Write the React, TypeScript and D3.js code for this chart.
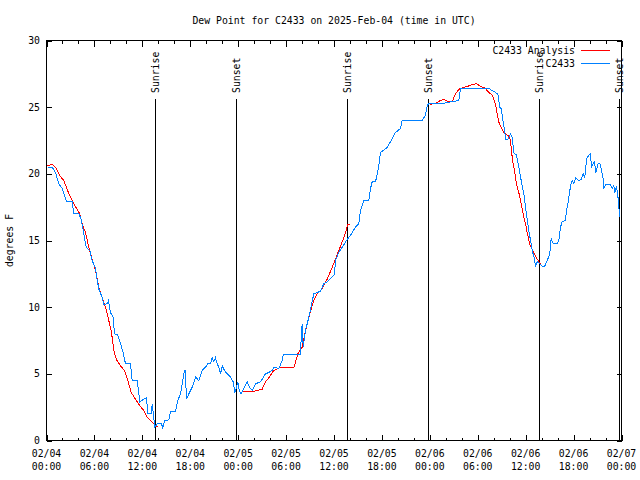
import React from "react";
import * as d3 from "d3";

const TITLE = "Dew Point for C2433 on 2025-Feb-04 (time in UTC)";
const Y_LABEL = "degrees F";
const SERIES_NAMES = ["C2433 Analysis", "C2433"];
const START = Date.UTC(2025, 1, 4, 0, 0);
const SPAN_HOURS = 72;

// Observations (hours since 2025-02-04 00:00 UTC, degrees F)
const obsHours = [
  0.16, 0.75, 1.13, 1.54, 1.97, 2.5, 3.22, 3.42, 4.04, 4.35, 4.67, 4.97, 5.42, 5.72, 6.14, 6.35, 6.6, 6.97,
  7.18, 7.6, 7.76, 8.01, 8.35, 8.51, 8.93, 9.27, 9.6, 9.89, 10.52, 10.73, 11.36, 11.68, 12.18, 12.52, 12.68,
  13.11, 13.24, 13.56, 13.86, 14.4, 14.56, 14.78, 15.31, 15.53, 16.15, 16.44, 16.78, 16.99, 17.19, 17.37,
  17.53, 17.82, 18.24, 18.66, 19.07, 19.5, 19.91, 20.2, 20.54, 20.75, 20.95, 21.16, 21.37, 21.58, 21.79,
  22.0, 22.29, 22.63, 23.04, 23.38, 23.58, 23.79, 23.95, 24.13, 24.38, 24.71, 25.13, 25.42, 25.76, 26.17,
  26.8, 27.01, 27.42, 27.84, 28.26, 28.46, 29.09, 29.51, 29.64, 31.81, 31.89, 32.02, 32.14, 32.43, 32.85,
  33.15, 33.47, 33.9, 34.31, 34.72, 35.15, 36.06, 36.19, 36.6, 37.15, 37.57, 38.07, 38.69, 39.11, 39.32,
  39.73, 40.36, 40.57, 40.78, 41.2, 41.41, 41.61, 41.82, 42.7, 43.33, 43.7, 44.33, 44.54, 47.04, 47.46,
  47.67, 47.87, 48.92, 49.75, 50.59, 51.63, 51.84, 55.38, 55.81, 56.22, 56.51, 56.76, 56.94, 57.1, 57.35,
  57.51, 57.76, 58.1, 58.31, 58.51, 58.85, 59.14, 59.44, 59.77, 59.98, 60.19, 60.39, 60.61, 60.82, 61.11,
  61.23, 61.44, 61.77, 62.07, 62.36, 62.7, 63.02, 63.2, 63.32, 63.52, 63.95, 64.15, 64.36, 64.57, 64.99,
  65.11, 65.33, 65.53, 65.7, 65.83, 66.03, 66.24, 66.65, 66.95, 67.21, 67.41, 67.62, 67.9, 68.12, 68.24,
  68.46, 68.62, 68.78, 68.96, 69.08, 69.28, 69.5, 69.71, 69.79, 70.0, 70.62, 70.84, 71.04, 71.16, 71.37,
  71.54, 71.63, 71.71, 71.79,
];
const obsValues = [
  20.45, 20.45, 20.1, 19.25, 18.9, 17.95, 17.9, 17.0, 17.0, 16.6, 15.5, 14.5, 14.25, 13.5, 12.9, 12.0, 11.25,
  10.75, 10.2, 10.25, 10.5, 9.6, 9.25, 8.0, 7.9, 7.25, 6.6, 5.75, 5.75, 4.5, 4.5, 2.9, 3.1, 3.2, 2.0, 2.0,
  2.7, 1.0, 1.25, 1.25, 0.95, 1.5, 1.55, 2.2, 2.2, 3.0, 3.5, 4.25, 5.0, 5.3, 3.1, 3.5, 4.0, 4.75, 4.5, 5.25,
  5.5, 5.75, 5.75, 6.2, 5.9, 6.2, 5.75, 5.5, 5.0, 5.6, 5.25, 5.0, 4.75, 4.4, 3.6, 4.0, 4.4, 3.75, 3.5, 3.9,
  4.4, 4.0, 3.75, 4.25, 4.4, 4.6, 5.0, 5.1, 5.25, 5.5, 5.4, 6.0, 6.45, 6.45, 7.75, 8.75, 7.0, 8.25, 9.25,
  10.1, 11.0, 11.1, 11.2, 11.75, 11.9, 12.45, 13.5, 14.1, 14.6, 15.0, 15.4, 16.0, 16.25, 17.25, 18.0, 18.0,
  18.9, 19.4, 19.4, 20.0, 20.6, 21.6, 22.0, 22.7, 23.1, 23.4, 24.0, 24.0, 24.4, 25.1, 25.3, 25.25, 25.3,
  25.4, 25.5, 26.4, 26.4, 26.25, 26.1, 26.0, 25.0, 24.9, 24.25, 23.25, 22.6, 22.6, 23.0, 22.75, 21.6, 21.4,
  20.5, 19.5, 18.5, 17.5, 16.6, 15.75, 15.0, 14.25, 13.6, 13.05, 13.4, 13.25, 13.05, 13.05, 13.5, 14.0,
  15.2, 14.9, 14.75, 14.75, 15.0, 16.0, 16.4, 16.5, 17.25, 17.9, 18.75, 19.3, 19.5, 19.25, 19.7, 19.5, 19.6,
  20.0, 19.75, 21.1, 21.4, 21.5, 20.5, 20.75, 20.9, 20.1, 20.5, 20.8, 20.8, 20.25, 19.6, 18.9, 19.2, 19.2,
  18.9, 19.1, 18.6, 19.1, 18.4, 17.75, 17.2, 16.75,
];

// Analysis (null marks a gap)
const anaHours = [
  0.13, 0.71, 1.13, 1.75, 2.17, 2.67, 3.22, 3.76, 4.17, 4.47, 4.88, 5.3, 5.72, 6.14, 6.55, 6.97, 7.39, 7.8,
  8.14, 8.43, 8.77, 9.27, 9.77, 10.18, 10.61, 11.14, 11.68, 12.18, 12.61, 13.02, 13.65, 13.94, 19.0,
  24.64, 25.96, 27.01, 27.42, 27.84, 28.46, 29.3, 30.97, 31.47, 32.02, 32.43, 32.97, 33.47, 33.9, 34.52,
  35.15, 35.78, 36.19, 36.6, 37.03, 37.44, 37.73, 37.98, 43.0,
  48.08, 48.71, 49.34, 49.75, 50.18, 50.8, 51.21, 51.75, 52.68, 53.31, 53.84, 54.43, 54.97, 55.38, 55.81,
  56.22, 56.43, 56.63, 56.94, 57.26, 57.6, 58.01, 58.19, 58.35, 58.6, 58.85, 59.14, 59.44, 59.77, 59.98,
  60.19, 60.52, 60.82, 61.11, 61.44, 61.86,
];
const anaValues: (number | null)[] = [
  20.6, 20.7, 20.5, 19.8, 19.5, 18.7, 18.0, 17.4, 17.0, 16.25, 15.6, 14.5, 13.6, 12.75, 11.5, 10.75, 10.0,
  9.0, 8.1, 6.75, 6.05, 5.6, 5.25, 4.5, 3.6, 3.1, 2.6, 2.25, 1.75, 1.5, 1.1, 1.05, null,
  3.68, 3.68, 3.85, 4.4, 4.7, 5.25, 5.5, 5.45, 6.5, 7.0, 8.25, 9.5, 10.5, 11.0, 11.4, 12.1, 13.0, 13.6,
  14.25, 14.9, 15.6, 16.2, 16.2, null,
  25.2, 25.3, 25.5, 25.6, 25.45, 25.4, 26.0, 26.4, 26.55, 26.7, 26.75, 26.55, 26.4, 26.1, 25.9, 25.25,
  24.5, 23.9, 23.45, 23.1, 22.95, 22.75, 22.0, 21.0, 20.25, 19.25, 18.6, 17.75, 16.75, 16.25, 15.6, 14.7,
  14.3, 14.0, 13.6, 13.25,
];

const sunHours = [13.56, 23.76, 37.57, 47.75, 61.65, 71.67];
const sunLabels = ["Sunrise", "Sunset", "Sunrise", "Sunset", "Sunrise", "Sunset"];
const yTicks = [0, 5, 10, 15, 20, 25, 30];

const FONT = "'DejaVu Sans Mono', 'Liberation Mono', monospace";
const RED = "#ff0000";
const BLUE = "#0080ff";

export default function App() {
  const W = 640, H = 480;
  const left = 46.5, right = 621.5, top = 40.5, bottom = 440.5;
  const t = (h: number) => new Date(START + h * 3600 * 1000);
  const x = d3.scaleUtc().domain([t(0), t(SPAN_HOURS)]).range([left, right]);
  const y = d3.scaleLinear().domain([0, 30]).range([bottom, top]);

  const majorTicks = x.ticks(d3.utcHour.every(6)!);
  const minorTicks = x.ticks(d3.utcHour.every(2)!).filter((d) => d.getUTCHours() % 6 !== 0);
  const fmtDate = d3.utcFormat("%m/%d");
  const fmtTime = d3.utcFormat("%H:%M");

  const line = d3
    .line<[number, number | null]>()
    .defined((d) => d[1] !== null)
    .x((d) => x(t(d[0])))
    .y((d) => y(d[1] as number));

  const obsPath = line(obsHours.map((h, i) => [h, obsValues[i]]));
  const anaPath = line(anaHours.map((h, i) => [h, anaValues[i]]));

  return (
    <svg width={W} height={H} style={{ position: "absolute", left: 0, top: 0, background: "#fff" }} fontFamily={FONT} fontSize={9.8}>
      <rect x={0} y={0} width={W} height={H} fill="#fff" />
      <text x={(left + right) / 2} y={24} textAnchor="middle">{TITLE}</text>
      <text transform={`translate(13,${(top + bottom) / 2}) rotate(-90)`} textAnchor="middle">{Y_LABEL}</text>

      <g shapeRendering="crispEdges" stroke="#000" strokeWidth={1}>
        {yTicks.map((v) => (
          <g key={v}>
            <line x1={left} x2={left + 5} y1={Math.round(y(v)) + 0.5} y2={Math.round(y(v)) + 0.5} />
            <line x1={right} x2={right - 5} y1={Math.round(y(v)) + 0.5} y2={Math.round(y(v)) + 0.5} />
          </g>
        ))}
        {majorTicks.map((d, i) => (
          <g key={"M" + i}>
            <line x1={Math.round(x(d)) + 0.5} x2={Math.round(x(d)) + 0.5} y1={bottom} y2={bottom - 6} />
            <line x1={Math.round(x(d)) + 0.5} x2={Math.round(x(d)) + 0.5} y1={top} y2={top + 6} />
          </g>
        ))}
        {minorTicks.map((d, i) => (
          <g key={"m" + i}>
            <line x1={Math.round(x(d)) + 0.5} x2={Math.round(x(d)) + 0.5} y1={bottom} y2={bottom - 3} />
            <line x1={Math.round(x(d)) + 0.5} x2={Math.round(x(d)) + 0.5} y1={top} y2={top + 3} />
          </g>
        ))}
        {sunHours.map((h, i) => (
          <line key={"s" + i} x1={Math.round(x(t(h))) + 0.5} x2={Math.round(x(t(h))) + 0.5} y1={99} y2={bottom} />
        ))}
      </g>

      {yTicks.map((v) => (
        <text key={"yl" + v} x={40} y={y(v) + 3.5} textAnchor="end">{v}</text>
      ))}
      {majorTicks.map((d, i) => (
        <g key={"xl" + i}>
          <text x={x(d)} y={457} textAnchor="middle">{fmtDate(d)}</text>
          <text x={x(d)} y={470} textAnchor="middle">{fmtTime(d)}</text>
        </g>
      ))}
      {sunHours.map((h, i) => (
        <text key={"sl" + i} transform={`translate(${x(t(h)) + 4},93) rotate(-90)`} textAnchor="start">{sunLabels[i]}</text>
      ))}

      <path d={anaPath || ""} fill="none" stroke={RED} strokeWidth={1} shapeRendering="crispEdges" />
      <path d={obsPath || ""} fill="none" stroke={BLUE} strokeWidth={1} shapeRendering="crispEdges" />

      <text x={575} y={53.5} textAnchor="end">{SERIES_NAMES[0]}</text>
      <line x1={581} x2={610} y1={50.5} y2={50.5} stroke={RED} shapeRendering="crispEdges" />
      <text x={575} y={66.5} textAnchor="end">{SERIES_NAMES[1]}</text>
      <line x1={581} x2={610} y1={63.5} y2={63.5} stroke={BLUE} shapeRendering="crispEdges" />

      <rect x={left} y={top} width={right - left} height={bottom - top} fill="none" stroke="#000" shapeRendering="crispEdges" />
    </svg>
  );
}
